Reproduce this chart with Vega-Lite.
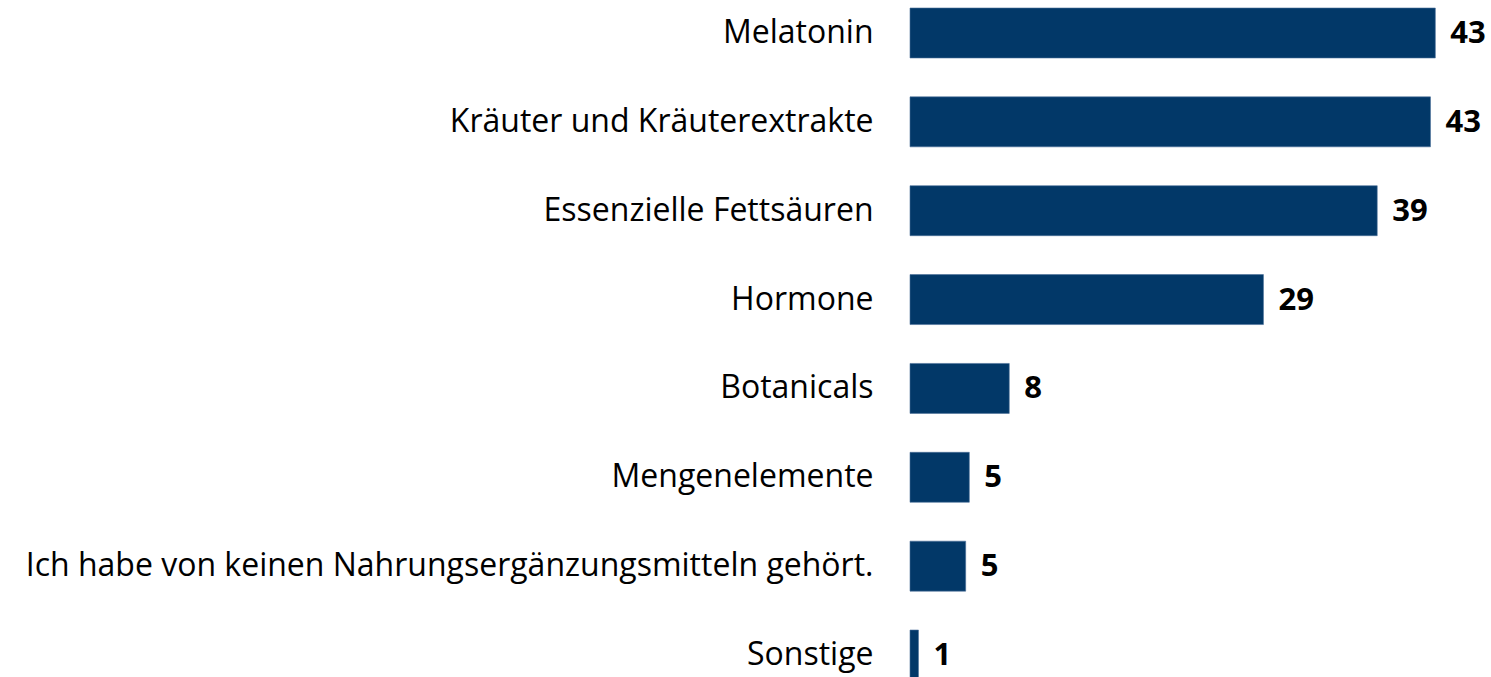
{
  "$schema": "https://vega.github.io/schema/vega-lite/v6.json",
  "width": 581,
  "height": 669,
  "autosize": {"type": "none"},
  "padding": {"left": 910, "top": 8, "right": 0, "bottom": 0},
  "background": "white",
  "config": {"view": {"stroke": null}},
  "data": {
    "values": [
      {"item": "Melatonin", "value": 43.4},
      {"item": "Kräuter und Kräuterextrakte", "value": 43.0},
      {"item": "Essenzielle Fettsäuren", "value": 38.6},
      {"item": "Hormone", "value": 29.2},
      {"item": "Botanicals", "value": 8.2},
      {"item": "Mengenelemente", "value": 4.9},
      {"item": "Ich habe von keinen Nahrungsergänzungsmitteln gehört.", "value": 4.6},
      {"item": "Sonstige", "value": 0.7}
    ]
  },
  "encoding": {
    "y": {
      "field": "item",
      "type": "nominal",
      "sort": null,
      "scale": {"range": [0, 672], "paddingInner": 0.4375, "paddingOuter": 0},
      "axis": {
        "title": null,
        "domain": false,
        "ticks": false,
        "labelPadding": 37,
        "labelFont": "Open Sans",
        "labelFontSize": 32,
        "labelColor": "#000000",
        "labelLimit": 1000
      }
    },
    "x": {
      "field": "value",
      "type": "quantitative",
      "scale": {"domain": [0, 48]},
      "axis": null
    }
  },
  "layer": [
    {"mark": {"type": "bar", "color": "#023868", "stroke": "#4a6f99", "strokeWidth": 0.6}},
    {
      "mark": {"type": "text", "align": "left", "baseline": "middle", "dx": 15, "dy": 1, "font": "Open Sans", "fontSize": 31, "fontWeight": "bold", "color": "#000000"},
      "encoding": {"text": {"field": "value", "type": "quantitative", "format": ".0f"}}
    }
  ]
}
